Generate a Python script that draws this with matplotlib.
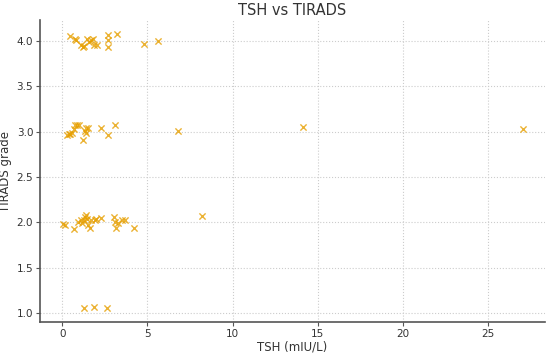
import matplotlib
matplotlib.use("Agg")
import matplotlib.pyplot as plt

tsh_g4 = [0.47, 0.72, 0.78, 1.09, 1.19, 1.28, 1.46, 1.58, 1.67, 1.79, 1.85, 2.06, 2.70, 2.70, 2.70, 3.19, 4.80, 5.60]
tir_g4 = [4.06, 4.02, 4.01, 3.95, 3.93, 3.94, 4.02, 3.99, 4.01, 4.02, 3.96, 3.95, 4.07, 4.01, 3.93, 4.08, 3.97, 4.00]

tsh_g3 = [0.27, 0.37, 0.47, 0.56, 0.68, 0.74, 0.86, 1.00, 1.19, 1.34, 1.40, 1.50, 1.38, 2.28, 2.67, 3.11, 6.81, 14.12, 27.04]
tir_g3 = [2.96, 2.97, 2.97, 2.99, 3.03, 3.07, 3.07, 3.07, 2.91, 3.01, 3.04, 3.04, 2.99, 3.04, 2.96, 3.07, 3.01, 3.05, 3.03]

tsh_g2 = [0.02, 0.14, 0.66, 0.91, 1.07, 1.15, 1.26, 1.34, 1.40, 1.46, 1.52, 1.60, 1.67, 1.91, 1.99, 2.28, 3.05, 3.09, 3.17, 3.29, 3.50, 3.66, 4.20, 8.19]
tir_g2 = [1.98, 1.97, 1.93, 2.00, 2.02, 1.99, 2.02, 2.06, 2.08, 2.04, 1.97, 1.94, 2.02, 2.02, 2.04, 2.05, 2.06, 2.00, 1.94, 1.99, 2.02, 2.02, 1.94, 2.07]

tsh_g1 = [1.30, 1.89, 2.61]
tir_g1 = [1.05, 1.07, 1.05]

tsh = tsh_g4 + tsh_g3 + tsh_g2 + tsh_g1
tirads = tir_g4 + tir_g3 + tir_g2 + tir_g1

fig = plt.figure(figsize=(5.5, 3.53), dpi=100)
ax = fig.add_axes([0.073, 0.088, 0.918, 0.855])
ax.scatter(tsh, tirads, marker='x', color='#E69F00', alpha=0.8, s=20, linewidths=1.0, zorder=3)

ax.set_title("TSH vs TIRADS", fontsize=10.5, color='#333333', pad=4)
ax.set_xlabel("TSH (mIU/L)", fontsize=8.5, color='#333333', labelpad=1)
ax.set_ylabel("TIRADS grade", fontsize=8.5, color='#333333', labelpad=3)
ax.set_xticks([0, 5, 10, 15, 20, 25])
ax.set_yticks([1.0, 1.5, 2.0, 2.5, 3.0, 3.5, 4.0])
ax.set_xlim(-1.3, 28.35)
ax.set_ylim(0.9, 4.23)
ax.grid(True, linestyle=':', color='#cccccc', linewidth=0.8)
ax.set_axisbelow(True)
for s in ['top', 'right']:
    ax.spines[s].set_visible(False)
for s in ['left', 'bottom']:
    ax.spines[s].set_color('#555555')
    ax.spines[s].set_linewidth(1.2)
ax.tick_params(colors='#333333', labelsize=7.5, length=3, color='#555555', pad=2)

fig.savefig("out.png", dpi=100)
